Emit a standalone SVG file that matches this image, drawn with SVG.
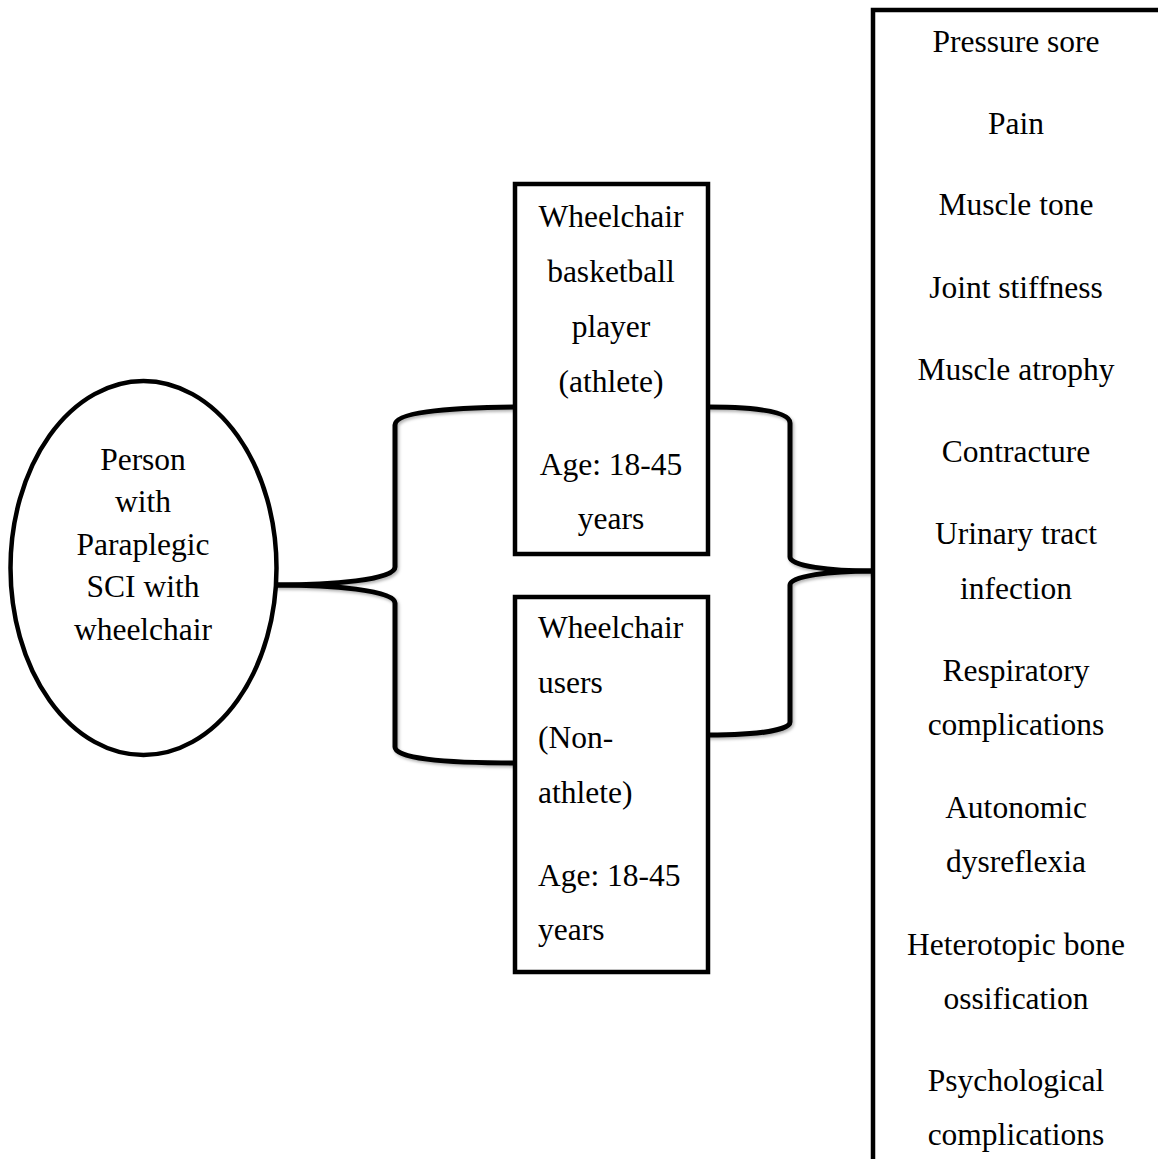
<svg xmlns="http://www.w3.org/2000/svg" width="1158" height="1159" viewBox="0 0 1158 1159">
<style>
.box{fill:#fff;stroke:#000;stroke-width:4.5}
.brace{fill:none;stroke:#000;stroke-width:5;stroke-linecap:round}
text{font-family:"Liberation Serif","Times New Roman",serif;font-size:31.5px;fill:#000}
.c{text-anchor:middle}
</style>
<defs>
<filter id="sh" x="-10%" y="-10%" width="130%" height="130%">
<feDropShadow dx="1.5" dy="2" stdDeviation="1.5" flood-color="#000" flood-opacity="0.3"/>
</filter>
</defs>
<rect width="1158" height="1159" fill="#fff"/>
<g id="connectors" filter="url(#sh)">
<path class="brace" d="M515,407 C440,408 395,413 395,425 L395,567 C395,580 330,585 277,585"/>
<path class="brace" d="M277,585 C330,585 395,590 395,603 L395,747 C395,758 440,763 515,763"/>
<path class="brace" d="M708,407 C760,407 790,412 790,423 L790,557 C790,566 830,571 872,571"/>
<path class="brace" d="M872,571 C830,571 790,576 790,585 L790,722 C790,730 760,735 708,735"/>
</g>
<g id="person">
<ellipse class="box" cx="143.5" cy="568" rx="133" ry="187"/>
<text class="c" x="143" y="470">Person</text>
<text class="c" x="143" y="512">with</text>
<text class="c" x="143" y="555">Paraplegic</text>
<text class="c" x="143" y="597">SCI with</text>
<text class="c" x="143" y="640">wheelchair</text>
</g>
<g id="athlete">
<rect class="box" x="515" y="184" width="193" height="370"/>
<text class="c" x="611" y="227">Wheelchair</text>
<text class="c" x="611" y="282">basketball</text>
<text class="c" x="611" y="337">player</text>
<text class="c" x="611" y="392">(athlete)</text>
<text class="c" x="611" y="475">Age: 18-45</text>
<text class="c" x="611" y="529">years</text>
</g>
<g id="nonathlete">
<rect class="box" x="515" y="597" width="193" height="375"/>
<text x="538" y="638">Wheelchair</text>
<text x="538" y="693">users</text>
<text x="538" y="748">(Non-</text>
<text x="538" y="803">athlete)</text>
<text x="538" y="886">Age: 18-45</text>
<text x="538" y="940">years</text>
</g>
<g id="complications">
<rect class="box" x="873" y="10" width="320" height="1200"/>
<text class="c" x="1016" y="52">Pressure sore</text>
<text class="c" x="1016" y="134">Pain</text>
<text class="c" x="1016" y="215">Muscle tone</text>
<text class="c" x="1016" y="298">Joint stiffness</text>
<text class="c" x="1016" y="380">Muscle atrophy</text>
<text class="c" x="1016" y="462">Contracture</text>
<text class="c" x="1016" y="544">Urinary tract</text>
<text class="c" x="1016" y="599">infection</text>
<text class="c" x="1016" y="681">Respiratory</text>
<text class="c" x="1016" y="735">complications</text>
<text class="c" x="1016" y="818">Autonomic</text>
<text class="c" x="1016" y="872">dysreflexia</text>
<text class="c" x="1016" y="955">Heterotopic bone</text>
<text class="c" x="1016" y="1009">ossification</text>
<text class="c" x="1016" y="1091">Psychological</text>
<text class="c" x="1016" y="1145">complications</text>
</g>
</svg>
